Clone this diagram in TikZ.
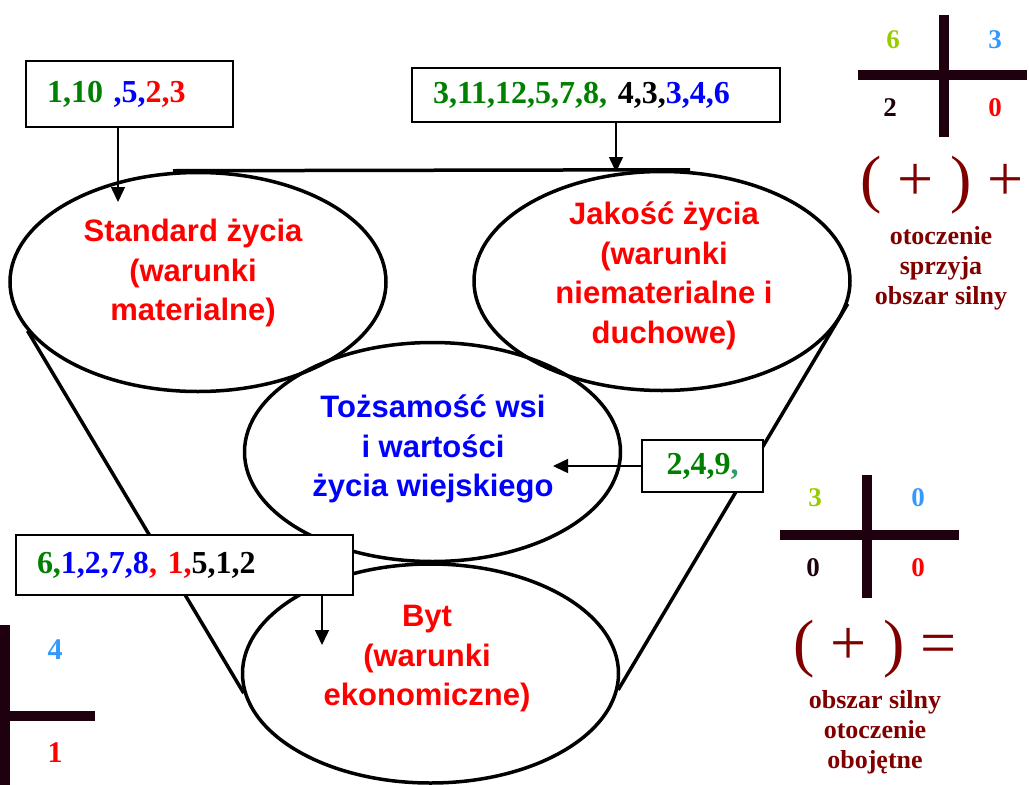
\documentclass[tikz,border=0pt]{standalone}
\usepackage{fontspec}
\setmainfont{Liberation Serif}
\newfontfamily\arialfont{Liberation Sans}
\usetikzlibrary{arrows.meta,shapes.geometric}
\definecolor{numgreen}{HTML}{008000}
\definecolor{numblue}{HTML}{0000FF}
\definecolor{numred}{HTML}{FF0000}
\definecolor{tealc}{HTML}{339966}
\definecolor{limec}{HTML}{99CC00}
\definecolor{skyc}{HTML}{3399FF}
\definecolor{crossdark}{RGB}{30,0,15}
\definecolor{maroonc}{HTML}{800000}
\begin{document}
\begin{tikzpicture}[x=1pt,y=-1pt,
  ell/.style={draw, line width=3.5pt, ellipse, minimum width=376pt, minimum height=219pt, inner sep=0pt},
  funnel/.style={line width=3.5pt},
  etext/.style={font=\arialfont\bfseries\fontsize{31}{39.5}\selectfont, align=center, inner sep=0pt},
  numbox/.style={draw, fill=white, line width=1.8pt, font=\bfseries\fontsize{32}{38}\selectfont, inner ysep=0pt, inner xsep=21pt},
  arr/.style={line width=1.5pt, -{Triangle[length=15pt,width=14pt]}},
  bar/.style={line width=10pt, draw=crossdark},
  cnum/.style={font=\bfseries\fontsize{27}{32}\selectfont, inner sep=0pt},
  bnum/.style={font=\bfseries\fontsize{30}{34}\selectfont, inner sep=0pt},
  sym/.style={font=\fontsize{64}{70}\selectfont, text=maroonc, inner sep=0pt},
  mtext/.style={font=\bfseries\fontsize{26}{30}\selectfont, text=maroonc, align=center, inner sep=0pt}
]
\useasboundingbox (0,0) rectangle (1029,785);

% ellipses
\node[ell] (s) at (198,282) {};
\node[ell] (j) at (662,281) {};
\node[ell] (t) at (432.5,452) {};
\node[ell] (b) at (430.5,673.5) {};

% funnel lines
\draw[funnel] ([xshift=-25pt]s.north) -- ([xshift=28pt]j.north);
\draw[funnel] (s.196) -- (b.186);
\draw[funnel] (j.-7) -- (b.-5);

% ellipse texts
\node[etext, text=numred] (st) at (193,273) {Standard życia\\(warunki\\materialne)};
\node[etext, text=numred] (jt) at (664,276) {Jakość życia\\(warunki\\niematerialne i\\duchowe)};
\node[etext, text=numblue] (tt) at (433,449) {Tożsamość wsi\\i wartości\\życia wiejskiego};
\node[etext, text=numred] (bt) at (427,659) {Byt\\(warunki\\ekonomiczne)};

% number boxes
\node[numbox, minimum height=66pt, text width=165pt, align=left] (b1) at (129.5,94)
  {{\color{numgreen}1,10} {\color{numblue},5,}{\color{numred}2,3}};
\node[numbox, minimum height=54pt, text width=326pt, align=left] (b2) at (596,95)
  {{\color{numgreen}3,11,12,5,7,8,} {\color{black}4,3,}{\color{numblue}3,4,6}};
\node[numbox, minimum height=52pt, text width=79pt, align=center] (b3) at (702.5,466)
  {{\color{numgreen}2,4,9}{\color{tealc},}};
\node[numbox, minimum height=60pt, text width=295pt, align=left] (b4) at (184.5,565)
  {{\color{numgreen}6,}{\color{numblue}1,2,7,8}{\color{numred}, 1,}{\color{black}5,1,2}};

% arrows
\coordinate (t1) at (118,202);
\coordinate (t2) at (616,172);
\coordinate (t3) at (553,466);
\coordinate (t4) at (322,645);
\draw[arr] (b1.south -| t1) -- (t1);
\draw[arr] (b2.south -| t2) -- (t2);
\draw[arr] (b3.west) -- (t3);
\draw[arr] (b4.south -| t4) -- (t4);

% cross top right
\draw[bar] (944,15) -- (944,137);
\draw[bar] (858,75) -- (1027,75);
\node[cnum, text=limec] (n1) at (893,40) {6};
\node[cnum, text=skyc] (n2) at (995,40) {3};
\node[cnum, text=crossdark] (n3) at (890,108) {2};
\node[cnum, text=numred] (n4) at (995,108) {0};
\node[sym] (p1) at (942,185) {( + ) +};
\node[mtext] (m1) at (941,268) {otoczenie\\sprzyja\\obszar silny};

% cross middle right
\draw[bar] (867,475) -- (867,598);
\draw[bar] (780,535) -- (959,535);
\node[cnum, text=limec] (n5) at (815,498) {3};
\node[cnum, text=skyc] (n6) at (918,498) {0};
\node[cnum, text=crossdark] (n7) at (813,568) {0};
\node[cnum, text=numred] (n8) at (918,568) {0};
\node[sym] (p2) at (875,649) {( + ) =};
\node[mtext] (m2) at (875,732) {obszar silny\\otoczenie\\obojętne};

% cross bottom left
\draw[bar] (5,625) -- (5,785);
\draw[bar] (0,716) -- (95,716);
\node[bnum, text=skyc] (n9) at (55,650) {4};
\node[bnum, text=numred] (n10) at (55,753) {1};
\end{tikzpicture}
\end{document}
